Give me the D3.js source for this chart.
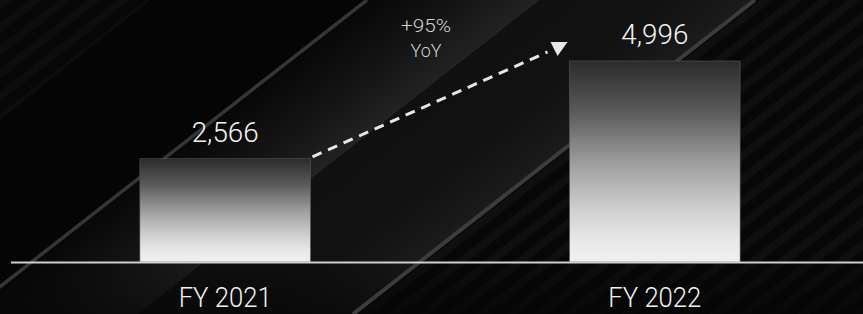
<!DOCTYPE html>
<html>
<head>
<meta charset="utf-8">
<script src="https://cdn.jsdelivr.net/npm/d3@7"></script>
<style>
html,body{margin:0;padding:0;background:#050505;}
svg{display:block;}
</style>
</head>
<body>
<div id="chart"></div>
<script>
// ---- data ----
const categories = ["FY 2021", "FY 2022"];
const values = [2566, 4996];
const valueLabels = ["2,566", "4,996"];
const growthLabel = ["+95%", "YoY"];

const W = 863, H = 314;
const svg = d3.select("#chart").append("svg").attr("width", W).attr("height", H);
const defs = svg.append("defs");

// ---- background ----
const k = 1.28; // horizontal shift per px of height for the diagonal streaks
const off = H * k;
function band(a, b) { return [[a,0],[b,0],[b-off,H],[a-off,H]]; }
const line = d3.line();

svg.append("rect").attr("width", W).attr("height", H).attr("fill", "#050505");

// stripes pattern
const pat = defs.append("pattern").attr("id", "stripes").attr("patternUnits", "userSpaceOnUse")
  .attr("width", 20).attr("height", 18).attr("patternTransform", "rotate(-38)");
pat.append("rect").attr("width", 20).attr("height", 18).attr("fill", "#070707");
pat.append("rect").attr("width", 20).attr("height", 8).attr("fill", "#0f0f0f");

// top-left faint stripes
svg.append("path").attr("d", line([[0,0],[150,0],[0,120]]) + "Z").attr("fill", "url(#stripes)").attr("opacity", 0.8);

// band between L1 and L2 (lighter gradient)
const n = [0.616, 0.788], dist = 106.5;
const g1 = defs.append("linearGradient").attr("id", "bandA").attr("gradientUnits", "userSpaceOnUse")
  .attr("x1", 367).attr("y1", 0).attr("x2", 367 + dist*n[0]).attr("y2", dist*n[1]);
g1.append("stop").attr("offset", 0).attr("stop-color", "#070707");
g1.append("stop").attr("offset", 0.55).attr("stop-color", "#141414");
g1.append("stop").attr("offset", 1).attr("stop-color", "#222222");
svg.append("path").attr("d", line(band(367, 540)) + "Z").attr("fill", "url(#bandA)");

// band between L2 and L3
const dist2 = (755-540)*n[0];
const g2 = defs.append("linearGradient").attr("id", "bandB").attr("gradientUnits", "userSpaceOnUse")
  .attr("x1", 540).attr("y1", 0).attr("x2", 540 + dist2*n[0]).attr("y2", dist2*n[1]);
g2.append("stop").attr("offset", 0).attr("stop-color", "#101010");
g2.append("stop").attr("offset", 0.6).attr("stop-color", "#121212");
g2.append("stop").attr("offset", 1).attr("stop-color", "#1b1b1b");
svg.append("path").attr("d", line(band(540, 755)) + "Z").attr("fill", "url(#bandB)");

// right of L3: striped
svg.append("path").attr("d", line(band(755, 1300)) + "Z").attr("fill", "url(#stripes)");

// bottom darkening below baseline
const g3 = defs.append("linearGradient").attr("id", "bottomFade").attr("x1", 0).attr("y1", 0).attr("x2", 0).attr("y2", 1);
g3.append("stop").attr("offset", 0).attr("stop-color", "#050505").attr("stop-opacity", 0.2);
g3.append("stop").attr("offset", 1).attr("stop-color", "#050505").attr("stop-opacity", 0.7);
svg.append("rect").attr("x", 0).attr("y", 262).attr("width", W).attr("height", H-262).attr("fill", "url(#bottomFade)");

// bright streak lines
svg.append("path").attr("d", line([[367,0],[367-off,H]])).attr("stroke", "#353535").attr("stroke-width", 3.5);
svg.append("path").attr("d", line([[755,0],[755-off,H]])).attr("stroke", "#3c3c3c").attr("stroke-width", 4);

// ---- scales ----
const x = d3.scaleBand().domain(categories).range([11, 869]).paddingInner(0.603).paddingOuter(0.3);
const y = d3.scaleLinear().domain([0, 6000]).range([262, 20.6]);

// bar gradient
const bg = defs.append("linearGradient").attr("id", "barGrad").attr("x1", 0).attr("y1", 0).attr("x2", 0).attr("y2", 1);
[[0, "#2b2b2b"], [0.25, "#5a5a5a"], [0.5, "#9c9c9c"], [0.75, "#d2d2d2"], [0.9, "#e9e9e9"], [1, "#f0f0f0"]]
  .forEach(([o, c]) => bg.append("stop").attr("offset", o).attr("stop-color", c));

svg.selectAll("rect.bar").data(values).enter().append("rect").attr("class", "bar")
  .attr("x", (d, i) => x(categories[i]))
  .attr("y", d => y(d))
  .attr("width", x.bandwidth())
  .attr("height", d => y(0) - y(d))
  .attr("fill", "url(#barGrad)")
  .attr("stroke", "#5a5a5a").attr("stroke-width", 0.6);

// baseline axis
const xAxis = d3.axisBottom(x).tickSize(0).tickPadding(0);
const ax = svg.append("g").attr("transform", `translate(0,${y(0)})`).call(xAxis);
ax.select(".domain").attr("d", `M11,0.5H${W}`).attr("stroke", "#cfcfcf").attr("stroke-width", 2);
ax.selectAll(".tick text").attr("y", 45).attr("dy", 0)
  .attr("fill", "#f2f2f2").attr("font-family", "Roboto, sans-serif").attr("font-weight", 300)
  .attr("font-size", 27).attr("text-anchor", "middle")
  .attr("textLength", 93).attr("lengthAdjust", "spacingAndGlyphs");

// value labels
svg.selectAll("text.val").data(values).enter().append("text").attr("class", "val")
  .attr("x", (d, i) => x(categories[i]) + x.bandwidth() / 2)
  .attr("y", d => y(d) - 17)
  .attr("text-anchor", "middle")
  .attr("fill", "#f4f4f4").attr("font-family", "Roboto, sans-serif").attr("font-weight", 300)
  .attr("font-size", 28)
  .attr("textLength", 67).attr("lengthAdjust", "spacingAndGlyphs")
  .text((d, i) => valueLabels[i]);

// dashed growth arrow
const x0 = x(categories[0]) + x.bandwidth() + 2, y0 = y(values[0]) - 2;
const x1 = x(categories[1]) - 22, y1 = y(values[1]) - 9;
svg.append("path").attr("d", line([[x0, y0], [x1, y1]]))
  .attr("stroke", "#e6e6e6").attr("stroke-width", 3).attr("stroke-dasharray", "10,7").attr("fill", "none");
svg.append("path").attr("d", line([[x1 + 3, y1 - 10], [x1 + 20, y1 - 10], [x1 + 10, y1 + 4]]) + "Z")
  .attr("fill", "#e6e6e6");

// growth label
const gx = (x0 + x1) / 2 - 4;
svg.selectAll("text.growth").data(growthLabel).enter().append("text").attr("class", "growth")
  .attr("x", gx).attr("y", (d, i) => 32 + i * 25)
  .attr("text-anchor", "middle")
  .attr("fill", "#d0d0d0").attr("font-family", "Roboto, sans-serif").attr("font-weight", 300)
  .attr("font-size", 19)
  .attr("textLength", (d, i) => i === 0 ? 50 : 31).attr("lengthAdjust", "spacingAndGlyphs")
  .text(d => d);
</script>
</body>
</html>
